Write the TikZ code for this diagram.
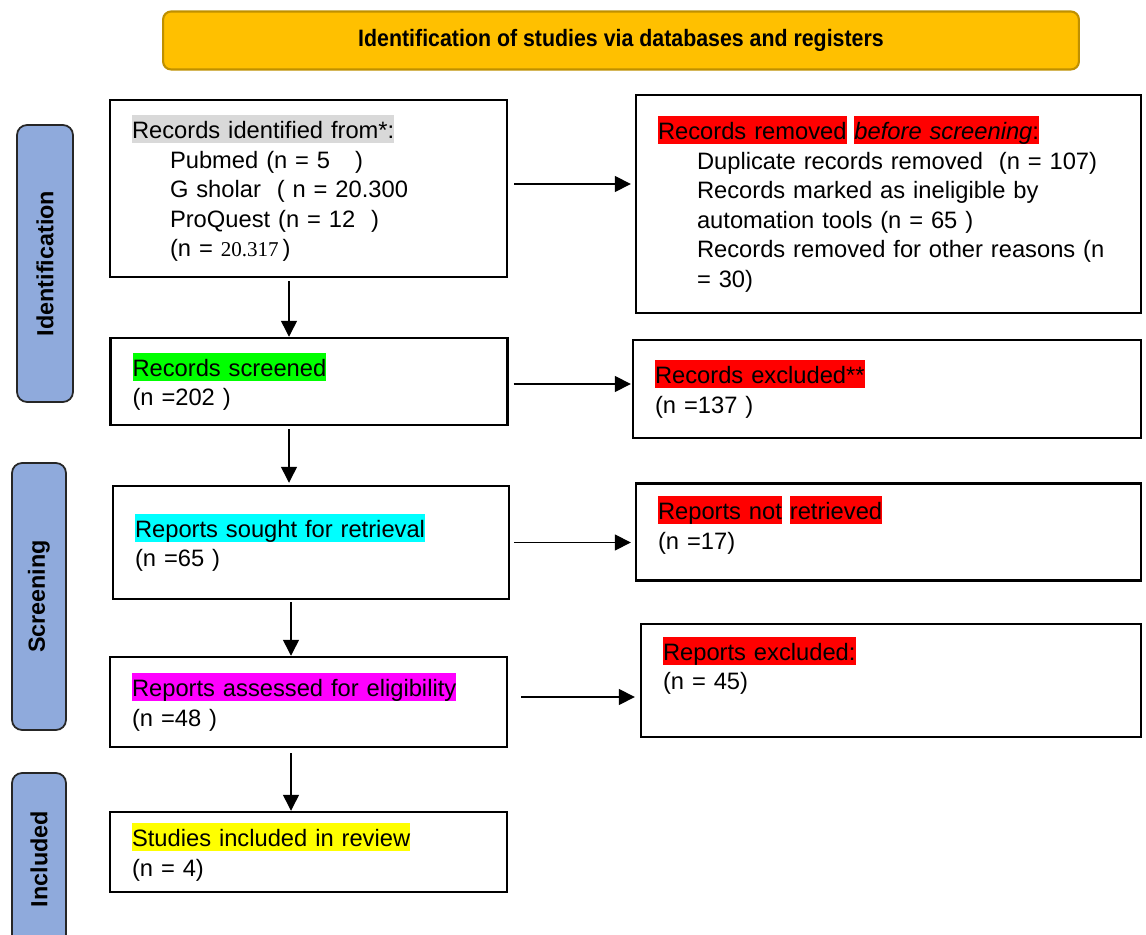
\documentclass[tikz,border=0pt]{standalone}
\usepackage{fontspec}
\setmainfont{Liberation Sans}
\newfontfamily\serifnum{Liberation Serif}
\usetikzlibrary{positioning, arrows.meta}
\definecolor{banner}{HTML}{FFC000}
\definecolor{bannerline}{HTML}{BF9000}
\definecolor{phasefill}{HTML}{8FAADC}
\definecolor{hlgrey}{HTML}{D9D9D9}
\definecolor{hlred}{HTML}{FF0000}
\definecolor{hlgreen}{HTML}{00FF00}
\definecolor{hlcyan}{HTML}{00FFFF}
\definecolor{hlmagenta}{HTML}{FF00FF}
\definecolor{hlyellow}{HTML}{FFFF00}
\newcommand{\hilite}[2]{{\setlength{\fboxsep}{0pt}\colorbox{#1}{\rule[-0.19em]{0pt}{1.18em}#2}}}

\begin{document}
\begin{tikzpicture}[x=0.02cm, y=-0.02cm,
    box/.style={draw, line width=1.4pt, align=left, text width=#1,
      inner xsep=0.44cm, inner ysep=0pt, font=\fontsize{13.5}{16.8}\selectfont},
    phase/.style={draw=black!85, line width=1pt, fill=phasefill, rounded corners=0.2cm,
      rotate=90, inner sep=0pt, font=\fontsize{13.3}{16}\selectfont\bfseries},
    banner/.style={draw=bannerline, line width=1.2pt, fill=banner, rounded corners=0.16cm,
      minimum width=18.32cm, minimum height=1.16cm, font=\fontsize{13.5}{15}\selectfont\bfseries},
    flow/.style={-{Triangle[length=3.2mm,width=3.2mm]}, line width=0.8pt}]
    \useasboundingbox (0,0) rectangle (1146,935);

    \node[banner] (title) at (621,40.5) {\scalebox{0.9}[1]{Identification of studies via databases and registers}};
    \node[phase, minimum width=5.54cm, minimum height=1.12cm] (ident) at (45,263.5) {Identification};
    \node[phase, minimum width=5.34cm, minimum height=1.08cm] (screen) at (39,596.5) {Screening};
    \node[phase, minimum width=3.44cm, minimum height=1.08cm] (incl) at (39,859) {Included};

    \node[box=7.06cm, minimum height=3.54cm] (found) at (308.5,188.5) {\hilite{hlgrey}{Records identified from*:}\\
      \hspace*{0.76cm}Pubmed (n = 5\hspace{0.5cm})\\
      \hspace*{0.76cm}G sholar\ \ ( n = 20.300\\
      \hspace*{0.76cm}ProQuest (n = 12\ \ )\\
      \hspace*{0.76cm}(n = {\serifnum\fontsize{12}{14}\selectfont 20.317}\,)};
    \node[box=9.22cm, minimum height=4.36cm] (removed) at (888.5,204) {\hilite{hlred}{Records removed}\ \hilite{hlred}{\textit{before screening}:}\\
      \hspace*{0.78cm}Duplicate records removed\ \ (n = 107)\\
      \hspace*{0.78cm}Records marked as ineligible by\\
      \hspace*{0.78cm}automation tools (n = 65 )\\
      \hspace*{0.78cm}Records removed for other reasons (n\\
      \hspace*{0.78cm}= 30)};
    \node[box=7.06cm, minimum height=1.74cm] (screened) at (309,381.5) {\hilite{hlgreen}{Records screened}\\(n =202 )};
    \node[box=9.28cm, minimum height=1.96cm] (excluded) at (887,389) {\hilite{hlred}{Records excluded**}\\(n =137 )};
    \node[box=7.04cm, minimum height=2.26cm] (sought) at (311,542.5) {\hilite{hlcyan}{Reports sought for retrieval}\\(n =65 )};
    \node[box=9.22cm, text height=0.72cm, text depth=1.22cm] (notret) at (888.5,532) {\hilite{hlred}{Reports not}\ \hilite{hlred}{retrieved}\\(n =17)};
    \node[box=7.06cm, minimum height=1.8cm] (assessed) at (308.5,702) {\hilite{hlmagenta}{Reports assessed for eligibility}\\(n =48 )};
    \node[box=9.12cm, text height=0.72cm, text depth=1.54cm] (repexcl) at (891,680.5) {\hilite{hlred}{Reports excluded:}\\(n = 45)};
    \node[box=7.06cm, minimum height=1.6cm] (included) at (308.5,852) {\hilite{hlyellow}{Studies included in review}\\(n = 4)};

    \path[flow] ([yshift=0.09cm]found.east) edge[shorten <=0.12cm, shorten >=0.08cm] ([yshift=0.09cm]found.east -| removed.west)
              ([yshift=-0.05cm]screened.east) edge[shorten <=0.1cm, shorten >=0.02cm] ([yshift=-0.05cm]screened.east -| excluded.west)
              (sought.east) edge[shorten <=0.08cm, shorten >=0.08cm] (sought.east -| notret.west)
              ([yshift=0.1cm]assessed.east) edge[shorten <=0.26cm, shorten >=0.1cm] ([yshift=0.1cm]assessed.east -| repexcl.west)
              ([xshift=-0.39cm]found.south) edge[shorten <=0.06cm] ([xshift=-0.39cm]found.south |- screened.north)
              ([xshift=-0.4cm]screened.south) edge[shorten <=0.06cm, shorten >=0.04cm] ([xshift=-0.4cm]screened.south |- sought.north)
              ([xshift=-0.4cm]sought.south) edge[shorten <=0.04cm] ([xshift=-0.4cm]sought.south |- assessed.north)
              ([xshift=-0.35cm]assessed.south) edge[shorten <=0.1cm] ([xshift=-0.35cm]assessed.south |- included.north);
\end{tikzpicture}
\end{document}
